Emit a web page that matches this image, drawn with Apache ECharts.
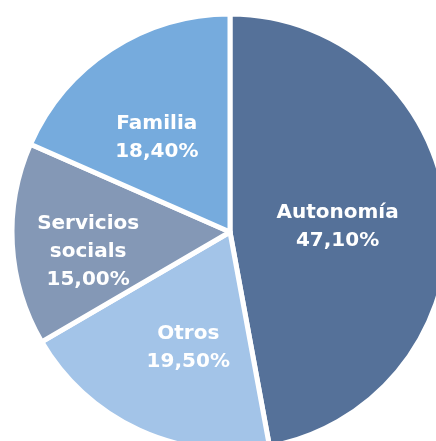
<!DOCTYPE html>
<html>
<head>
<meta charset="utf-8">
<script src="https://cdn.jsdelivr.net/npm/echarts@6/dist/echarts.min.js"></script>
<style>
  html, body { margin: 0; padding: 0; background: #fff; }
  #chart { width: 436px; height: 441px; }
</style>
</head>
<body>
<div id="chart"></div>
<script>
// datos del gráfico
var categories = ['Autonomía', 'Otros', 'Servicios\nsocials', 'Familia'];
var values = [47.1, 19.5, 15.0, 18.4];
var colors = ['#557199', '#a3c4e8', '#8498b6', '#76abdd'];
// desplazamiento de las etiquetas respecto a la posicion "inside"
var labelOffsets = [[-4, 5], [5, 14], [-30, 13], [-12, 0]];

function fmt(v) {
  return v.toFixed(2).replace('.', ',') + '%';
}

var chart = echarts.init(document.getElementById('chart'));

var pieData = categories.map(function (name, i) {
  return {
    name: name,
    value: values[i],
    itemStyle: { color: colors[i] },
    label: { offset: labelOffsets[i] }
  };
});

chart.setOption({
  backgroundColor: '#ffffff',
  animation: false,
  series: [{
    type: 'pie',
    center: [230, 232],
    radius: 218,
    startAngle: 90,
    clockwise: true,
    data: pieData,
    itemStyle: { borderColor: '#ffffff', borderWidth: 5 },
    label: {
      show: true,
      position: 'inside',
      color: '#ffffff',
      fontFamily: 'DejaVu Sans',
      fontWeight: 'bold',
      fontSize: 20,
      lineHeight: 28,
      align: 'center',
      formatter: function (p) { return p.name + '\n' + fmt(p.value); }
    },
    labelLine: { show: false },
    emphasis: { disabled: true }
  }]
});
</script>
</body>
</html>
